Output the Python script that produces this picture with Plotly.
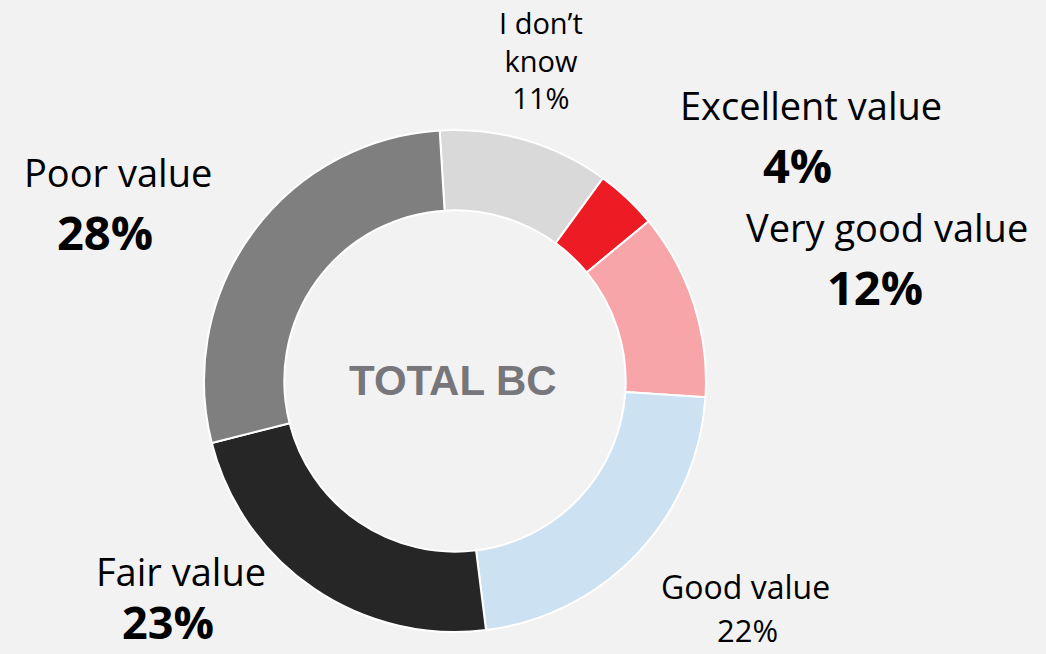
import plotly.graph_objects as go

categories = ["I don\u2019t know", "Excellent value", "Very good value", "Good value", "Fair value", "Poor value"]
values = [11, 4, 12, 22, 23, 28]
colors = ["#d9d9d9", "#ed1c24", "#f7a5a8", "#cce1f2", "#262626", "#7f7f7f"]
center_label = "TOTAL BC"

W, H = 1046, 654

fig = go.Figure()
fig.add_trace(go.Pie(
    labels=categories, values=values, sort=False, direction="clockwise",
    rotation=-3.5, hole=0.68,
    marker=dict(colors=colors, line=dict(color="#ffffff", width=2)),
    textinfo="none", hoverinfo="label+percent", showlegend=False,
    domain=dict(x=[(455 - 251) / W, (455 + 251) / W], y=[1 - 632 / H, 1 - 130 / H]),
))

FONT = "Open Sans, Liberation Sans, Arial, sans-serif"

def ann(text, px, py, size, bold=False, yanchor="middle"):
    fig.add_annotation(
        x=px / W, y=1 - py / H, xref="paper", yref="paper", showarrow=False,
        text=f"<b>{text}</b>" if bold else text,
        font=dict(family=FONT, size=size, color="#000000"),
        xanchor="center", yanchor=yanchor, align="center",
    )

pct = [f"{v}%" for v in values]

# I don't know (small, multi-line)
ann("I don\u2019t<br>know<br>" + pct[0], 541, 60, 29)
# Excellent
ann(categories[1], 811, 105, 38)
ann(pct[1], 797, 165, 47, bold=True)
# Very good
ann(categories[2], 887, 227, 38)
ann(pct[2], 875, 287, 47, bold=True)
# Good
ann(categories[3], 745, 586, 32)
ann(pct[3], 747, 630, 31)
# Fair
ann(categories[4], 181, 571, 38)
ann(pct[4], 168, H, 45, bold=True, yanchor="bottom")
# Poor
ann(categories[5], 118, 172, 38)
ann(pct[5], 105, 232, 47, bold=True)

fig.add_annotation(
    x=453 / W, y=1 - 381 / H, xref="paper", yref="paper", showarrow=False,
    text=f"<b>{center_label}</b>",
    font=dict(family="Liberation Sans, Arial, sans-serif", size=42, color="#76767b"),
    xanchor="center", yanchor="middle",
)

fig.update_layout(
    width=W, height=H,
    margin=dict(l=0, r=0, t=0, b=0),
    paper_bgcolor="#f2f2f2", plot_bgcolor="#f2f2f2",
)

fig.write_html("out.html", config={"displayModeBar": False},
               post_script="document.body.style.margin='0';document.body.style.background='#f2f2f2';")
